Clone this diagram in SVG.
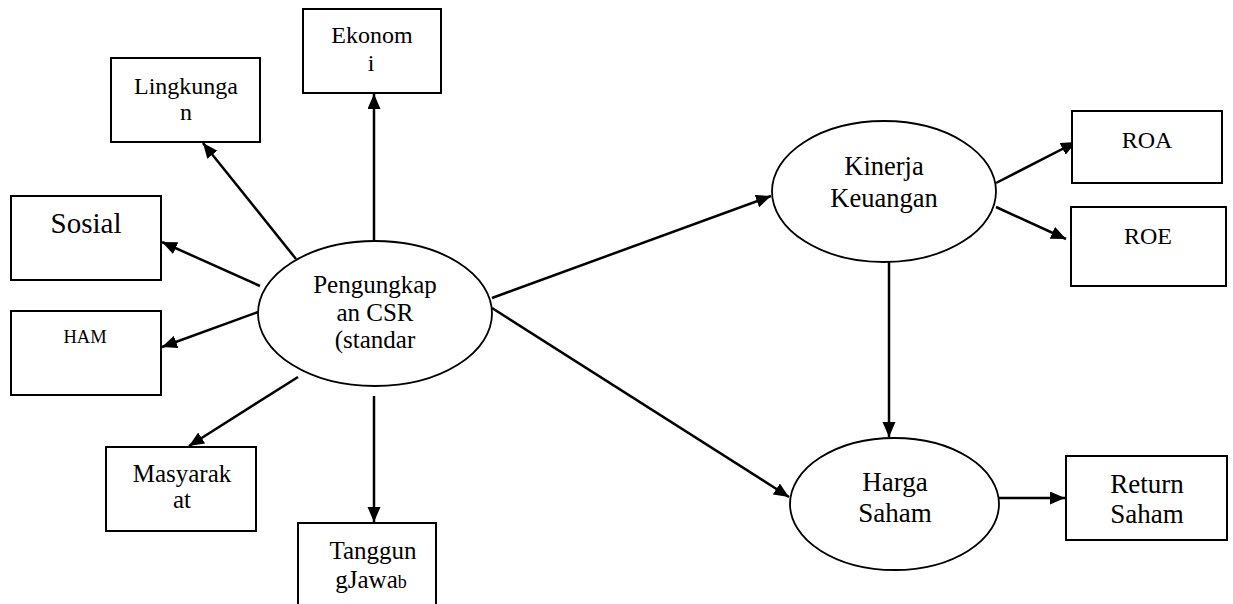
<svg xmlns="http://www.w3.org/2000/svg" width="1233" height="604" viewBox="0 0 1233 604">
<style>
.box{fill:#fff;stroke:#000;stroke-width:2}
.ell{fill:#fff;stroke:#000;stroke-width:1.8}
.t{font-family:"Liberation Serif",serif;fill:#000;text-anchor:middle}
.c{stroke:#000;stroke-width:2.5;fill:none;marker-end:url(#ah)}
</style>
<defs>
<marker id="ah" markerUnits="userSpaceOnUse" markerWidth="16" markerHeight="14" refX="15" refY="6.5" orient="auto">
<path d="M0,0 L15,6.5 L0,13 z" fill="#000"/>
</marker>
</defs>
<rect width="1233" height="604" fill="#fff"/>
<g id="connectors">
<line class="c" x1="374" y1="240" x2="374" y2="94"/>
<line class="c" x1="296" y1="259" x2="203" y2="143"/>
<line class="c" x1="260" y1="286" x2="162" y2="242"/>
<line class="c" x1="258" y1="312" x2="162" y2="347"/>
<line class="c" x1="298" y1="377" x2="189" y2="446"/>
<line class="c" x1="374" y1="396" x2="374" y2="522"/>
<line class="c" x1="492" y1="298" x2="771" y2="196"/>
<line class="c" x1="492" y1="308" x2="789" y2="497"/>
<line class="c" x1="996" y1="183" x2="1076" y2="142"/>
<line class="c" x1="996" y1="207" x2="1066" y2="239"/>
<line class="c" x1="889" y1="262" x2="889" y2="437"/>
<line class="c" x1="999" y1="498" x2="1065" y2="498"/>
</g>
<g id="ekonomi"><rect class="box" x="303" y="9" width="138" height="84"/>
<text class="t" font-size="24" x="372" y="43">Ekonom</text><text class="t" font-size="24" x="371" y="71">i</text></g>
<g id="lingkungan"><rect class="box" x="111" y="58" width="149" height="84"/>
<text class="t" font-size="24" x="186" y="94">Lingkunga</text><text class="t" font-size="24" x="186" y="120">n</text></g>
<g id="sosial"><rect class="box" x="11" y="196" width="150" height="84"/>
<text class="t" font-size="29" x="86" y="233">Sosial</text></g>
<g id="ham"><rect class="box" x="11" y="311" width="150" height="84"/>
<text class="t" font-size="18.5" x="85" y="343">HAM</text></g>
<g id="masyarakat"><rect class="box" x="106" y="447" width="150" height="84"/>
<text class="t" font-size="25" x="182" y="482">Masyarak</text><text class="t" font-size="25" x="182" y="508">at</text></g>
<g id="tanggungjawab"><rect class="box" x="298" y="523" width="138" height="90"/>
<text class="t" font-size="25" x="373" y="559">Tanggun</text><text class="t" font-size="25" x="371" y="588">gJawa<tspan font-size="18">b</tspan></text></g>
<g id="csr"><ellipse class="ell" cx="375" cy="313.5" rx="117" ry="72.5"/>
<text class="t" font-size="25" x="375" y="293">Pengungkap</text><text class="t" font-size="25" x="375" y="321">an CSR</text><text class="t" font-size="25" x="375" y="348">(standar</text></g>
<g id="kinerja"><ellipse class="ell" cx="884" cy="191.5" rx="112" ry="70.5"/>
<text class="t" font-size="26.5" x="884" y="175">Kinerja</text><text class="t" font-size="26.5" x="884" y="207">Keuangan</text></g>
<g id="roa"><rect class="box" x="1072" y="111" width="150" height="72"/>
<text class="t" font-size="24" x="1147" y="148">ROA</text></g>
<g id="roe"><rect class="box" x="1071" y="207" width="155" height="79"/>
<text class="t" font-size="24" x="1148" y="244">ROE</text></g>
<g id="harga"><ellipse class="ell" cx="894.5" cy="504" rx="104.5" ry="66"/>
<text class="t" font-size="27" x="895" y="491">Harga</text><text class="t" font-size="27" x="895" y="522">Saham</text></g>
<g id="return"><rect class="box" x="1066" y="456" width="161" height="84"/>
<text class="t" font-size="27" x="1147" y="493">Return</text><text class="t" font-size="27" x="1147" y="523">Saham</text></g>
</svg>
